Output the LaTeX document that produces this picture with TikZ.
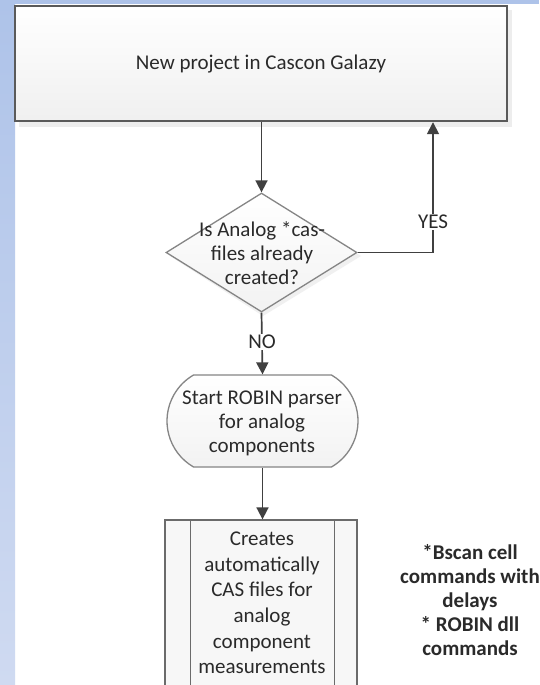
\documentclass[tikz,border=0pt]{standalone}
\usepackage{fontspec}
\setmainfont{Carlito}
\usetikzlibrary{shapes.geometric,shapes.misc,arrows.meta}
\definecolor{bluetop}{HTML}{AEC3E9}
\definecolor{bluebot}{HTML}{CFDAF1}
\definecolor{linec}{HTML}{404040}
\definecolor{txt}{HTML}{2A2A2A}
\definecolor{boxline}{HTML}{5A5A5A}
\definecolor{shapeline}{HTML}{858585}
\begin{document}
\begin{tikzpicture}[x=1pt,y=-1pt,
  conn/.style={draw=linec, line width=1.7pt, -{Triangle[width=12pt,length=12pt]}},
  lbl/.style={fill=white, inner sep=1.5pt, font=\fontsize{21}{25}\selectfont, text=txt},
  txtnode/.style={align=center, font=\fontsize{21}{24}\selectfont, text=txt, inner sep=0pt},
  topbox/.style={draw=boxline, line width=2.4pt, top color=white, bottom color=black!6, minimum width=492pt, minimum height=115pt, inner sep=0pt},
  decision/.style={shape=diamond, draw=shapeline, line width=1.3pt, top color=white, bottom color=black!5, minimum width=191pt, minimum height=119pt, inner sep=0pt},
  terminal/.style={shape=rounded rectangle, rounded rectangle arc length=120, draw=shapeline, line width=1.3pt, top color=white, bottom color=black!5, minimum width=191pt, minimum height=92pt, inner sep=0pt},
  process/.style={draw=boxline!90, line width=1.3pt, fill=black!3, minimum width=192pt, minimum height=185pt, inner sep=0pt},
  shadowc/.style={fill=black!7},
]
\useasboundingbox (0,0) rectangle (539,685);
\clip (0,0) rectangle (539,685);
\fill[white] (0,0) rectangle (539,685);
\shade[top color=bluetop,bottom color=bluebot] (0,0) rectangle (15,685);
\fill[bluetop] (0,0) rectangle (539,4.5);

% shadows
\fill[shadowc] (19,10) rectangle (512,127);
\fill[black!6] (263,197) -- (361,256) -- (263,316) -- (170,256) -- cycle;

% nodes
\node[topbox] (top) at (261,63.5) {};
\node[txtnode] (toptext) at (261,64) {New project in Cascon Galazy};

\node[decision] (dec) at (261.5,252.5) {};
\node[txtnode] (dectext) at (262,253) {Is Analog *cas-\\files already\\created?};

\node[terminal] (term) at (262.5,421) {};
\node[txtnode] (termtext) at (262,423) {Start ROBIN parser\\for analog\\components};

\node[process] (proc) at (261,612.5) {};
\draw[boxline!90, line width=1.3pt] ([xshift=26pt]proc.north west) -- ([xshift=26pt]proc.south west);
\draw[boxline!90, line width=1.3pt] ([xshift=-23pt]proc.north east) -- ([xshift=-23pt]proc.south east);
\node[txtnode, font=\fontsize{21}{25.6}\selectfont] (proctext) at (262,603) {Creates\\automatically\\CAS files for\\analog\\component\\measurements};

\node[txtnode, font=\bfseries\fontsize{21}{24}\selectfont] (note) at (470,600) {*Bscan cell\\commands with\\delays\\* ROBIN dll\\commands};

% connectors
\coordinate (yesc) at (433,252.5);
\draw[conn] (top.south -| dec.north) -- (dec.north);
\draw[conn] (dec.east) -- (yesc) -- (yesc |- top.south);
\node[lbl] (yes) at (433,222) {YES};
\draw[conn] (dec.south) -- (term.north);
\node[lbl] (no) at (262,342) {NO};
\draw[conn] (term.south) -- (term.south |- proc.north);
\end{tikzpicture}
\end{document}
